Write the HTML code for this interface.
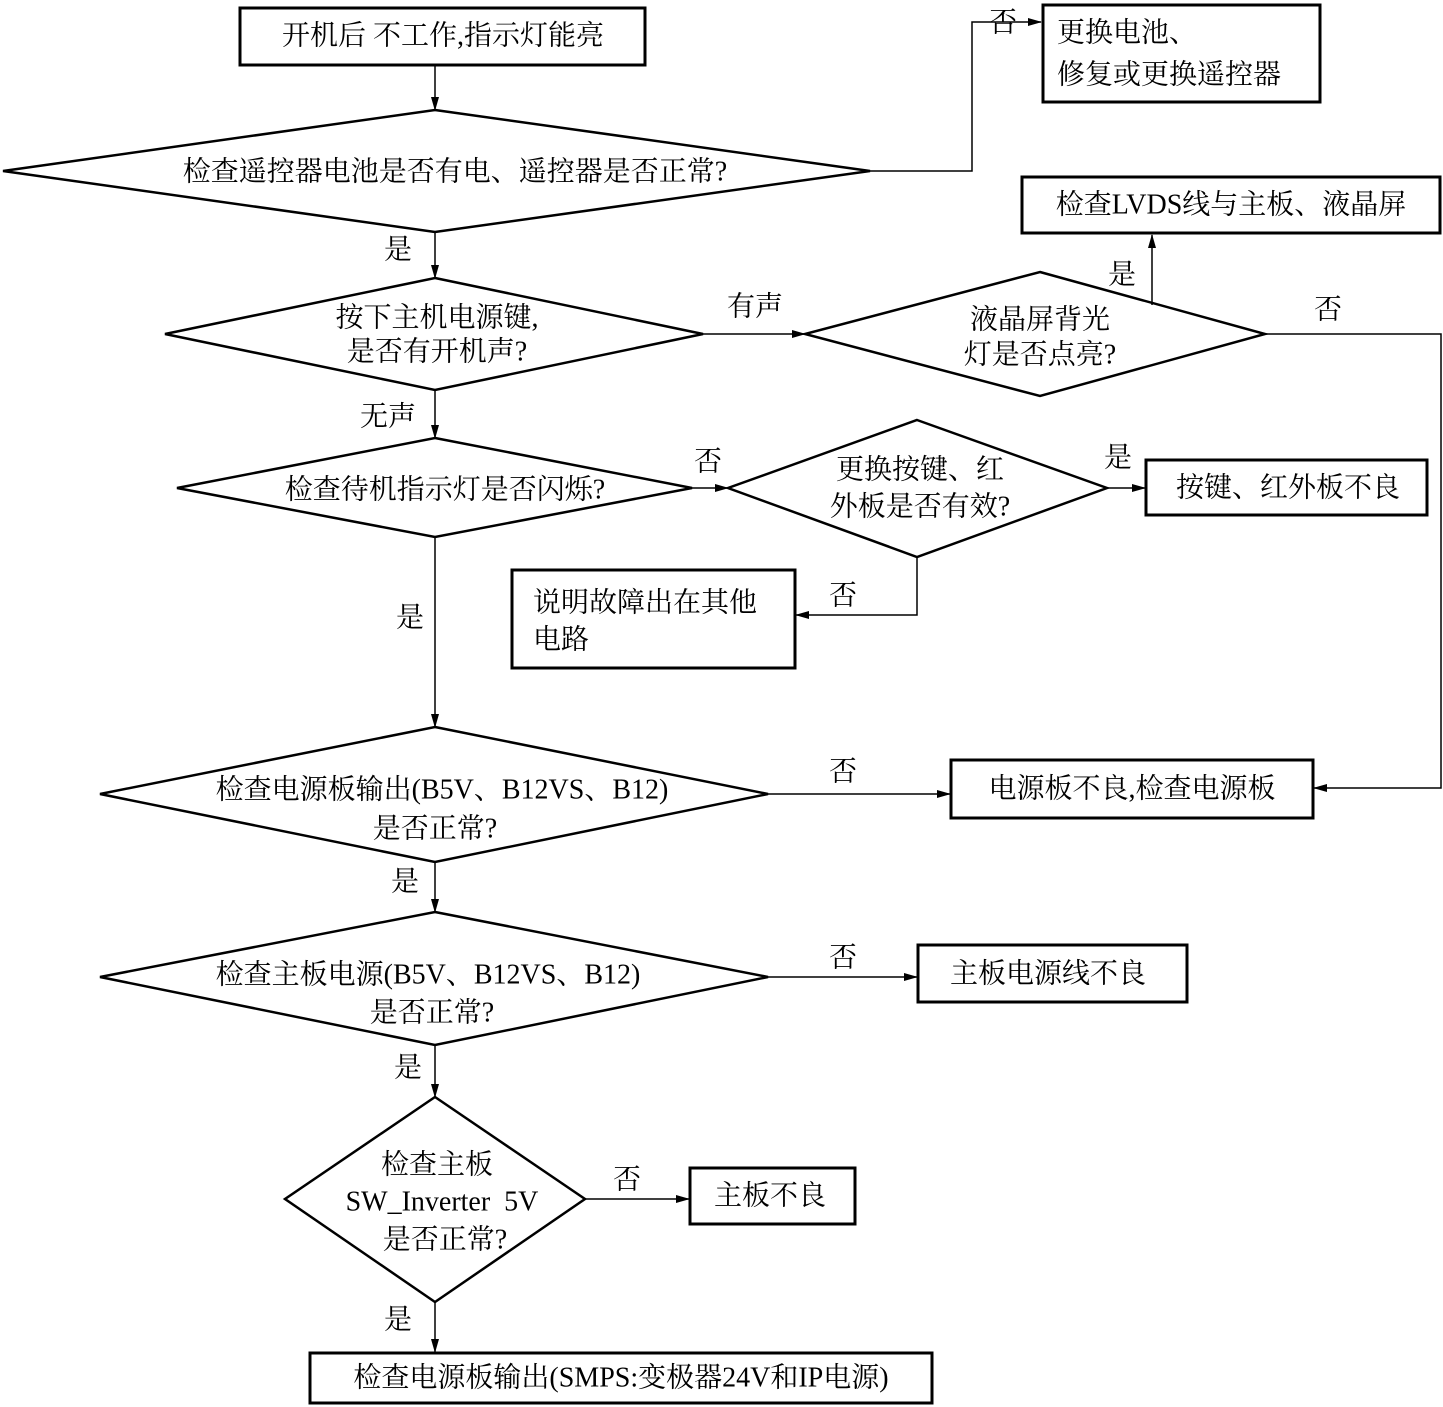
<!DOCTYPE html>
<html><head><meta charset="utf-8"><style>
html,body{margin:0;padding:0;background:#fff;}
svg{display:block;}
text{font-family:"Liberation Serif","Noto Serif CJK SC",serif;font-size:28px;fill:#000;}
</style></head><body>
<svg width="1443" height="1407" viewBox="0 0 1443 1407" xmlns="http://www.w3.org/2000/svg">
<defs><marker id="a" markerWidth="14" markerHeight="8" refX="13" refY="4" orient="auto" markerUnits="userSpaceOnUse"><path d="M0,0 L14,4 L0,8 Z" fill="#000"/></marker></defs>
<g fill="none" stroke="#000" stroke-width="3">
<rect x="240" y="8" width="405" height="57"/>
<rect x="1043" y="5" width="277" height="97"/>
<rect x="1022" y="177" width="418" height="56"/>
<rect x="1146" y="460" width="281" height="55"/>
<rect x="512" y="570" width="283" height="98"/>
<rect x="951" y="760" width="362" height="58"/>
<rect x="918" y="945" width="269" height="57"/>
<rect x="690" y="1168" width="165" height="56"/>
<rect x="310" y="1353" width="622" height="50"/>
</g>
<g fill="none" stroke="#000" stroke-width="2.5">
<polygon points="435,110 870,171 435,232 3,171"/>
<polygon points="435,278 703,334 435,390 165,334"/>
<polygon points="1040,272 1265,334 1040,396 805,334"/>
<polygon points="435,438 692,488 435,537 177,488"/>
<polygon points="917,420 1107,488 917,557 728,488"/>
<polygon points="435,727 768,794 435,862 100,794"/>
<polygon points="435,912 768,977 435,1045 100,977"/>
<polygon points="435,1097 585,1199 435,1302 285,1199"/>
</g>
<g fill="none" stroke="#000" stroke-width="1.5" marker-end="url(#a)">
<path d="M435,65 V110"/>
<path d="M870,171 H972 V22 H1041"/>
<path d="M435,232 V278"/>
<path d="M703,334 H805"/>
<path d="M1152,305 V235"/>
<path d="M1265,334 H1441 V788 H1314"/>
<path d="M435,390 V438"/>
<path d="M692,488 H728"/>
<path d="M1107,488 H1145"/>
<path d="M917,557 V615 H796"/>
<path d="M435,537 V727"/>
<path d="M768,794 H950"/>
<path d="M435,862 V912"/>
<path d="M768,977 H917"/>
<path d="M435,1045 V1097"/>
<path d="M585,1199 H689"/>
<path d="M435,1302 V1352"/>
</g>
<g text-anchor="middle" dominant-baseline="central">
<text x="443" y="36">开机后 不工作,指示灯能亮</text>
<text x="455" y="172">检查遥控器电池是否有电、遥控器是否正常?</text>
<text x="437" y="318">按下主机电源键,</text>
<text x="437" y="352">是否有开机声?</text>
<text x="1040" y="320">液晶屏背光</text>
<text x="1040" y="355">灯是否点亮?</text>
<text x="1231" y="205">检查LVDS线与主板、液晶屏</text>
<text x="445" y="490">检查待机指示灯是否闪烁?</text>
<text x="920" y="470">更换按键、红</text>
<text x="920" y="507">外板是否有效?</text>
<text x="1288" y="488">按键、红外板不良</text>
<text x="442" y="790">检查电源板输出(B5V、B12VS、B12)</text>
<text x="435" y="829">是否正常?</text>
<text x="1132" y="789">电源板不良,检查电源板</text>
<text x="428" y="975">检查主板电源(B5V、B12VS、B12)</text>
<text x="432" y="1013">是否正常?</text>
<text x="1048" y="974">主板电源线不良</text>
<text x="437" y="1165">检查主板</text>
<text x="442" y="1202" xml:space="preserve">SW_Inverter  5V</text>
<text x="445" y="1240">是否正常?</text>
<text x="770" y="1196">主板不良</text>
<text x="621" y="1378">检查电源板输出(SMPS:变极器24V和IP电源)</text>
<text x="1003" y="23">否</text>
<text x="398" y="250">是</text>
<text x="755" y="307">有声</text>
<text x="1122" y="275">是</text>
<text x="1328" y="310">否</text>
<text x="388" y="417">无声</text>
<text x="708" y="462">否</text>
<text x="1118" y="458">是</text>
<text x="843" y="596">否</text>
<text x="410" y="618">是</text>
<text x="843" y="772">否</text>
<text x="405" y="882">是</text>
<text x="843" y="958">否</text>
<text x="408" y="1068">是</text>
<text x="627" y="1180">否</text>
<text x="398" y="1320">是</text>
</g>
<g dominant-baseline="central">
<text x="1057" y="33">更换电池、</text>
<text x="1057" y="75">修复或更换遥控器</text>
<text x="533" y="603">说明故障出在其他</text>
<text x="533" y="640">电路</text>
</g>
</svg>
</body></html>
